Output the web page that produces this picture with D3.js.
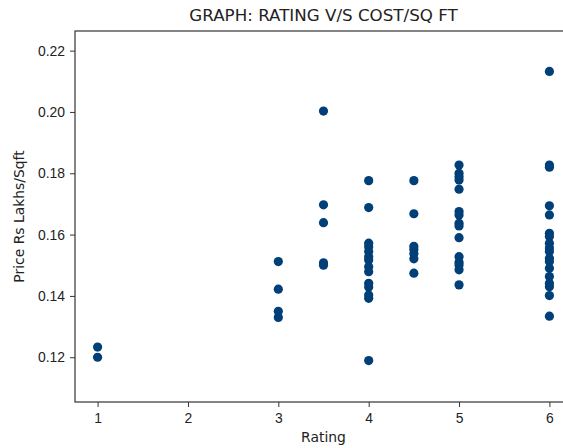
<!DOCTYPE html>
<html>
<head>
<meta charset="utf-8">
<script src="https://cdn.jsdelivr.net/npm/d3@7"></script>
<style>
  body { margin: 0; background: #fff; }
  svg { display: block; font-family: "DejaVu Sans", sans-serif; }
</style>
</head>
<body>
<svg id="chart" width="563" height="448"></svg>
<script>
// values, one array per rating
const ratings = [1, 3, 3.5, 4, 4.5, 5, 6];
const prices = [
  [0.1233, 0.1200],
  [0.1512, 0.1422, 0.1350, 0.1330],
  [0.2003, 0.1697, 0.1639, 0.1508, 0.1500],
  [0.1776, 0.1688, 0.1572, 0.1560, 0.1545, 0.1528, 0.1517, 0.1495, 0.1479, 0.1441, 0.1429, 0.1403, 0.1392, 0.1189],
  [0.1776, 0.1668, 0.1562, 0.1552, 0.1538, 0.1521, 0.1474],
  [0.1827, 0.1800, 0.1789, 0.1778, 0.1748, 0.1675, 0.1664, 0.1637, 0.1628, 0.1590, 0.1528, 0.1510, 0.1501, 0.1485, 0.1436],
  [0.2132, 0.1827, 0.1820, 0.1694, 0.1664, 0.1604, 0.1594, 0.1572, 0.1556, 0.1545, 0.1523, 0.1512, 0.1490, 0.1463, 0.1441, 0.1430, 0.1401, 0.1334]
];
const xTicks = [1, 2, 3, 4, 5, 6];
const yTicks = [0.12, 0.14, 0.16, 0.18, 0.20, 0.22];

const points = [];
ratings.forEach((r, i) => prices[i].forEach(p => points.push({ rating: r, price: p })));

const plotLeft = 75, plotRight = 572, plotTop = 31, plotBottom = 402;

const svg = d3.select("#chart");

const x = d3.scaleLinear().domain([0.75, 6.25]).range([plotLeft, plotRight]);
const y = d3.scaleLinear().domain([0.1054, 0.2264]).range([plotBottom, plotTop]);

// points
svg.append("g")
  .selectAll("circle")
  .data(points)
  .enter().append("circle")
  .attr("cx", d => x(d.rating))
  .attr("cy", d => y(d.price))
  .attr("r", 4.6)
  .attr("fill", "#003f78");

// axes
const xAxis = svg.append("g")
  .attr("transform", `translate(0,${plotBottom})`)
  .call(d3.axisBottom(x).tickValues(xTicks).tickFormat(d3.format("d")).tickSize(5).tickPadding(6));
const yAxis = svg.append("g")
  .attr("transform", `translate(${plotLeft},0)`)
  .call(d3.axisLeft(y).tickValues(yTicks).tickFormat(d3.format(".2f")).tickSize(5).tickPadding(5));

[xAxis, yAxis].forEach(g => {
  g.select(".domain").remove();
  g.selectAll("line").attr("stroke", "#333").attr("stroke-width", 1);
  g.selectAll("text").attr("fill", "#222").style("font-size", "13.9px");
});

// frame
svg.append("rect")
  .attr("x", plotLeft).attr("y", plotTop)
  .attr("width", plotRight - plotLeft).attr("height", plotBottom - plotTop)
  .attr("fill", "none").attr("stroke", "#333").attr("stroke-width", 1.2);

// labels
svg.append("text")
  .attr("x", (plotLeft + plotRight) / 2).attr("y", 21)
  .attr("text-anchor", "middle")
  .style("font-size", "16.7px").attr("fill", "#222")
  .text("GRAPH: RATING V/S COST/SQ FT");

svg.append("text")
  .attr("x", (plotLeft + plotRight) / 2).attr("y", 442)
  .attr("text-anchor", "middle")
  .style("font-size", "13.9px").attr("fill", "#222")
  .text("Rating");

svg.append("text")
  .attr("transform", `translate(24,${(plotTop + plotBottom) / 2}) rotate(-90)`)
  .attr("text-anchor", "middle")
  .style("font-size", "13.9px").attr("fill", "#222")
  .text("Price Rs Lakhs/Sqft");
</script>
</body>
</html>
